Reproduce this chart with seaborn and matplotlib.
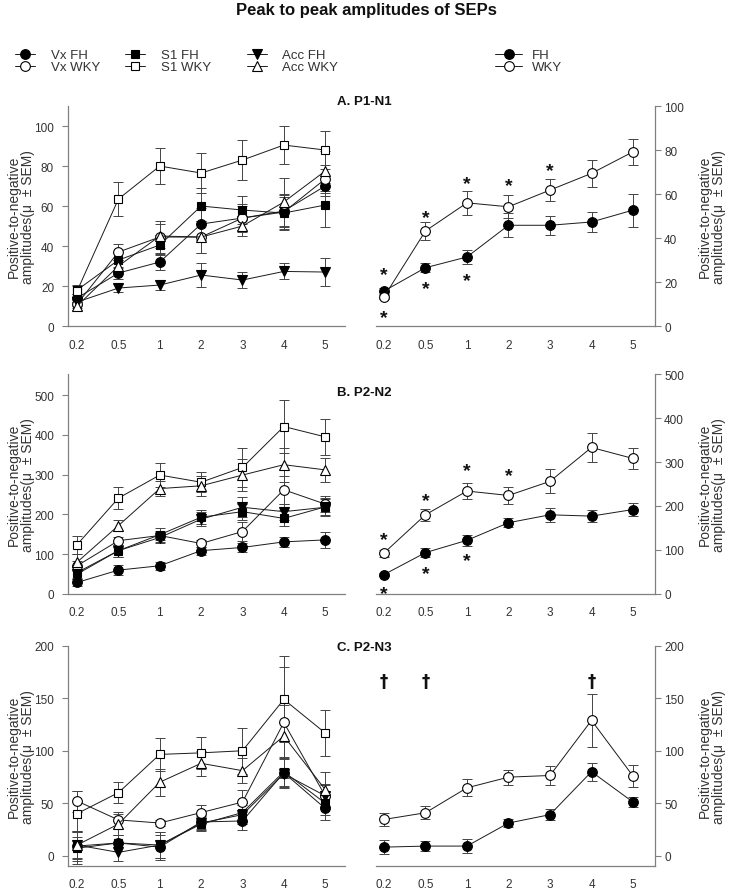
import numpy as np
import seaborn as sns
import matplotlib.pyplot as plt
from matplotlib.lines import Line2D

# stimulus frequencies (x categories)
freqs = ["0.2", "0.5", "1", "2", "3", "4", "5"]

# A. P1-N1, left panel (per region)
a_vx_fh = [14, 26.5, 32, 51, 54, 57.5, 70]
a_vx_fh_err = [2, 3, 4, 8, 7, 8, 5]
a_vx_wky = [11, 37, 44.5, 44.5, 54, 57, 73.5]
a_vx_wky_err = [2, 4, 8, 8, 6, 9, 7]
a_s1_fh = [18, 33, 40.5, 60, 58, 56.5, 60.5]
a_s1_fh_err = [2, 4, 5, 9, 7, 8, 11]
a_s1_wky = [17.5, 63.5, 80, 76.5, 83, 90.5, 88]
a_s1_wky_err = [3, 8.5, 9, 10, 10, 9.5, 9.5]
a_acc_fh = [12, 19, 20.5, 25.5, 23, 27.3, 27]
a_acc_fh_err = [2, 2, 2.5, 6, 4, 4, 7]
a_acc_wky = [10, 30, 45, 44.5, 50, 62, 77.5]
a_acc_wky_err = [2, 3, 6, 8, 5, 12, 10]
# A. P1-N1, right panel (pooled)
a_fh = [15.9, 26.5, 31.4, 45.8, 45.8, 47.3, 52.7]
a_fh_err = [1.2, 2, 3, 5.5, 4.3, 4.5, 7.5]
a_wky = [13.2, 43.2, 56, 54.2, 61.8, 69.4, 79.2]
a_wky_err = [1, 4, 5.5, 5.3, 5, 6, 6]
a_star_idx = [0, 0, 1, 1, 2, 2, 3, 4]
a_star_y = [25.8, 6, 51.5, 19.4, 67, 23, 66, 73]

# B. P2-N2
b_vx_fh = [29, 60, 71, 109, 117, 131, 136]
b_vx_fh_err = [8, 13, 10, 10, 12, 13, 20]
b_vx_wky = [71, 134, 147, 127, 157, 262, 226]
b_vx_wky_err = [12, 10, 12, 8, 25, 35, 20]
b_s1_fh = [54, 109, 149, 193, 207, 190, 219]
b_s1_fh_err = [15, 15, 18, 17, 20, 20, 22]
b_s1_wky = [124, 241, 299, 281, 318, 421, 395]
b_s1_wky_err = [23, 27, 30, 25, 50, 67, 46]
b_acc_fh = [50, 109, 142, 188, 218, 207, 218]
b_acc_fh_err = [12, 15, 15, 17, 25, 20, 20]
b_acc_wky = [80, 172, 265, 272, 299, 325, 312]
b_acc_wky_err = [20, 13, 18, 25, 40, 43, 31]
b_fh = [44, 94, 122, 162, 180, 177, 192]
b_fh_err = [3, 10, 12, 10, 16, 14, 15]
b_wky = [93, 180, 234, 224, 256, 333, 308]
b_wky_err = [8, 14, 19, 19, 27, 34, 23]
b_star_idx = [0, 0, 1, 1, 2, 2, 3]
b_star_y = [135, 11, 224, 57, 291, 87, 279]

# C. P2-N3
c_vx_fh = [9, 12, 8, 32, 33, 79, 45]
c_vx_fh_err = [14, 8, 12, 7, 9, 14, 11]
c_vx_wky = [52, 34, 31, 41, 51, 127, 57]
c_vx_wky_err = [10, 8, 3, 7, 12, 53, 10]
c_s1_fh = [7, 12, 10, 30, 41, 80, 50]
c_s1_fh_err = [15, 8, 12, 7, 9, 14, 11]
c_s1_wky = [40, 60, 96.5, 98, 100, 149, 117]
c_s1_wky_err = [22, 10, 16, 15, 22, 41, 22]
c_acc_fh = [10, 3, 10, 31, 39, 78, 57]
c_acc_fh_err = [13, 8, 12, 7, 9, 14, 11]
c_acc_wky = [10, 30, 70, 88, 81, 114, 63]
c_acc_wky_err = [12, 10, 13, 12, 12, 30, 17]
c_fh = [8, 9, 9, 31, 39, 80, 51]
c_fh_err = [7, 4.5, 7, 4, 5.5, 8.6, 5]
c_wky = [34.4, 40.8, 64.6, 74.8, 76.4, 129, 75.8]
c_wky_err = [6.4, 6.3, 8, 7.3, 9, 25.5, 10.8]
c_dagger_idx = [0, 1, 5]
c_dagger_y = [167, 167, 167]

sns.set_style("ticks")
plt.rcParams['font.family'] = ['Liberation Sans', 'DejaVu Sans']

SPINE = '#808080'
TXT = '#333333'
MS = {'o': 7, 's': 6.2, 'v': 6.8, '^': 6.8}
x = np.arange(len(freqs))


def plot_series(ax, vals, errs, marker, filled):
    ax.errorbar(x, vals, yerr=errs, fmt='none', ecolor='#444444', elinewidth=0.7,
                capsize=3.5, capthick=0.7, zorder=1)
    sns.lineplot(x=x, y=vals, ax=ax, color='#1a1a1a', linewidth=0.7, marker=marker,
                 markersize=MS[marker], markerfacecolor='black' if filled else 'white',
                 markeredgecolor='black', markeredgewidth=0.8, legend=False, zorder=2)


def style_axes(ax, side, ylim, yticks, xlim):
    ax.set_xlim(*xlim)
    ax.set_ylim(*ylim)
    ax.set_xticks(x)
    ax.set_xticklabels(freqs)
    ax.set_yticks(yticks)
    ax.set_xlabel('')
    ax.set_ylabel('')
    ax.spines['top'].set_visible(False)
    for s in ['left', 'right', 'bottom']:
        ax.spines[s].set_color(SPINE)
        ax.spines[s].set_linewidth(0.9)
    if side == 'left':
        ax.spines['right'].set_visible(False)
        ax.tick_params(axis='y', length=4, width=0.8, color=SPINE, labelsize=8.5, labelcolor=TXT, pad=6)
    else:
        ax.spines['left'].set_visible(False)
        ax.yaxis.tick_right()
        ax.tick_params(axis='y', length=4, width=0.8, color=SPINE, labelsize=8.5, labelcolor=TXT, pad=2.5)
    ax.tick_params(axis='x', length=0, pad=9, labelsize=8.5, labelcolor=TXT)


def marks(ax, idx, ys, sym, fs):
    for i, yv in zip(idx, ys):
        if sym == '*':
            ax.annotate(sym, (i, yv), xytext=(0, -0.48 * fs), textcoords='offset points',
                        ha='center', va='baseline', fontsize=fs, fontweight='bold', color='#111111')
        else:
            ax.annotate(sym, (i, yv), ha='center', va='center', fontsize=fs,
                        fontweight='bold', color='#111111', family=['DejaVu Sans'])


fig = plt.figure(figsize=(7.35, 8.95), dpi=100)

bottoms = [0.6346, 0.3352, 0.0313]
h = 0.2458
panels = [
    ([(a_vx_fh, a_vx_fh_err), (a_vx_wky, a_vx_wky_err), (a_s1_fh, a_s1_fh_err),
      (a_s1_wky, a_s1_wky_err), (a_acc_fh, a_acc_fh_err), (a_acc_wky, a_acc_wky_err)],
     [(a_fh, a_fh_err), (a_wky, a_wky_err)],
     (0, 110), (0, 100), [0, 20, 40, 60, 80, 100], "A. P1-N1", 0.886),
    ([(b_vx_fh, b_vx_fh_err), (b_vx_wky, b_vx_wky_err), (b_s1_fh, b_s1_fh_err),
      (b_s1_wky, b_s1_wky_err), (b_acc_fh, b_acc_fh_err), (b_acc_wky, b_acc_wky_err)],
     [(b_fh, b_fh_err), (b_wky, b_wky_err)],
     (0, 553), (0, 500), [0, 100, 200, 300, 400, 500], "B. P2-N2", 0.5609),
    ([(c_vx_fh, c_vx_fh_err), (c_vx_wky, c_vx_wky_err), (c_s1_fh, c_s1_fh_err),
      (c_s1_wky, c_s1_wky_err), (c_acc_fh, c_acc_fh_err), (c_acc_wky, c_acc_wky_err)],
     [(c_fh, c_fh_err), (c_wky, c_wky_err)],
     (-10, 200), (-10, 200), [0, 50, 100, 150, 200], "C. P2-N3", 0.276),
]
region_styles = [('o', True), ('o', False), ('s', True), ('s', False), ('v', True), ('^', False)]
ylab = "Positive-to-negative\namplitudes(\u03bc  \u00b1 SEM)"

right_axes = []
for k, (regions, pooled, ylim_l, ylim_r, yt, title, ty) in enumerate(panels):
    axl = fig.add_axes([0.0925, bottoms[k], 0.3769, h])
    axr = fig.add_axes([0.5116, bottoms[k], 0.3796, h])
    for (vals, errs), (m, f) in zip(regions, region_styles):
        plot_series(axl, vals, errs, m, f)
    for (vals, errs), f in zip(pooled, [True, False]):
        plot_series(axr, vals, errs, 'o', f)
    style_axes(axl, 'left', ylim_l, yt, (-0.22, 6.48))
    style_axes(axr, 'right', ylim_r, yt, (-0.19, 6.53))
    yc = bottoms[k] + h / 2
    fig.text(21 / 735, yc, ylab, rotation=90, ha='center', va='center', fontsize=10,
             color=TXT, linespacing=0.95)
    fig.text(712 / 735, yc, ylab, rotation=90, ha='center', va='center', fontsize=10,
             color=TXT, linespacing=0.95)
    fig.text(0.4952, ty, title, ha='center', va='center', fontsize=9.5, fontweight='bold', color='#111111')
    right_axes.append(axr)

marks(right_axes[0], a_star_idx, a_star_y, '*', 14)
marks(right_axes[1], b_star_idx, b_star_y, '*', 14)
marks(right_axes[2], c_dagger_idx, c_dagger_y, '\u2020', 12)

fig.text(0.498, 0.9888, "Peak to peak amplitudes of SEPs", ha='center', va='center',
         fontsize=12, fontweight='bold', color='#111111')


def handle(marker, filled):
    return Line2D([], [], color='#1a1a1a', linewidth=0.7, marker=marker, markersize=MS[marker],
                  markerfacecolor='black' if filled else 'white', markeredgecolor='black',
                  markeredgewidth=0.8)


legend_cols = [
    ([handle('o', True), handle('o', False)], ["Vx FH", "Vx WKY"], 15, 1.55, 1.2),
    ([handle('s', True), handle('s', False)], ["S1 FH", "S1 WKY"], 125, 1.55, 1.2),
    ([handle('v', True), handle('^', False)], ["Acc FH", "Acc WKY"], 247, 1.55, 1.1),
    ([handle('o', True), handle('o', False)], ["FH", "WKY"], 495, 2.05, 0.75),
]
for hs, labels, x0, hl, htp in legend_cols:
    fig.legend(hs, labels, loc='upper left', bbox_to_anchor=(x0 / 735, 1 - 50 / 895),
               frameon=False, borderpad=0, borderaxespad=0, fontsize=9.5, handlelength=hl,
               handletextpad=htp, labelspacing=0.0, labelcolor=TXT)

fig.savefig("out.png", dpi=100)
